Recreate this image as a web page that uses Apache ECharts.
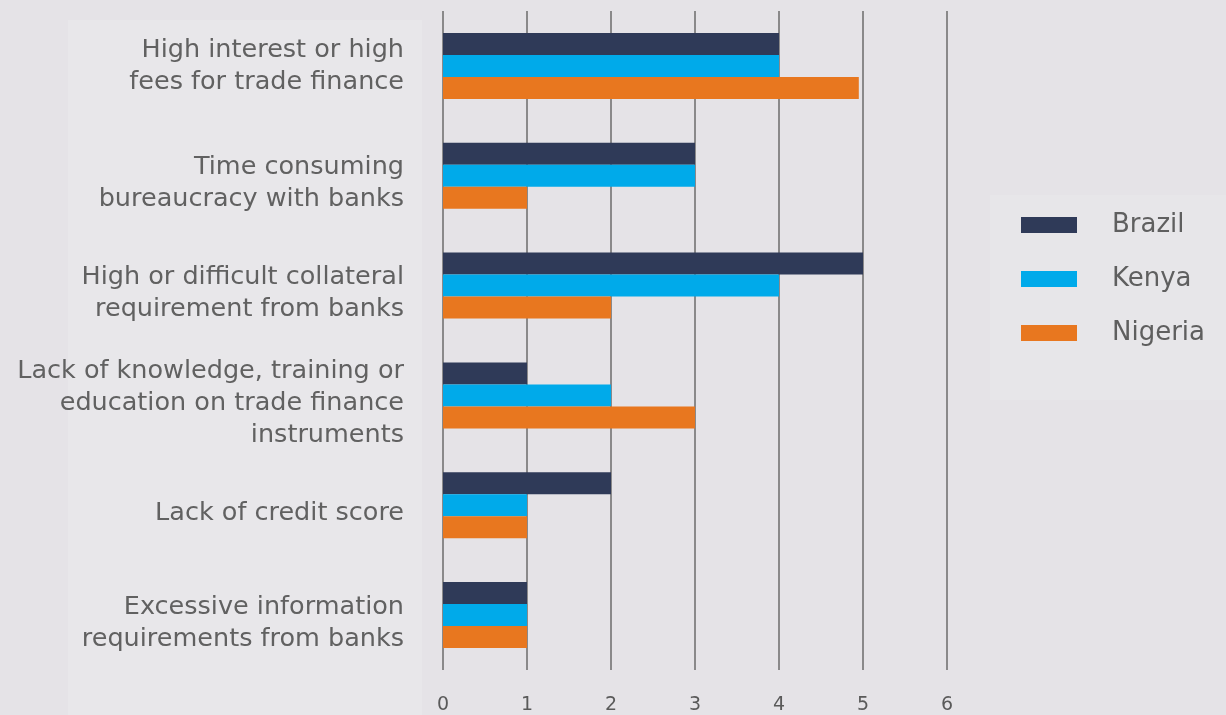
<!DOCTYPE html>
<html>
<head>
<meta charset="utf-8">
<script src="https://cdn.jsdelivr.net/npm/echarts@6/dist/echarts.min.js"></script>
<style>
  html, body { margin: 0; padding: 0; background: #e5e3e7; }
  #chart { width: 1226px; height: 715px; }
</style>
</head>
<body>
<div id="chart"></div>
<script>
// barriers, top to bottom
const categories = [
    'High interest or high\nfees for trade finance',
    'Time consuming\nbureaucracy with banks',
    'High or difficult collateral\nrequirement from banks',
    'Lack of knowledge, training or\neducation on trade finance\ninstruments',
    'Lack of credit score',
    'Excessive information\nrequirements from banks'
];
const brazil = [4, 3, 5, 1, 2, 1];
const kenya = [4, 3, 4, 2, 1, 1];
const nigeria = [4.95, 1, 2, 3, 1, 1];
const ticks = [0, 1, 2, 3, 4, 5, 6];

const font = '"DejaVu Sans", "Noto Sans", sans-serif';

const chart = echarts.init(document.getElementById('chart'));

const bar = (name, data, color) => ({
    name: name,
    type: 'bar',
    data: data,
    barWidth: 22,
    barGap: '0%',
    itemStyle: { color: color }
});

chart.setOption({
    backgroundColor: '#e5e3e7',
    animation: false,
    graphic: [
        // lighter panels behind labels and legend
        { type: 'rect', z: -10, shape: { x: 68, y: 20, width: 354, height: 695 }, style: { fill: '#e8e7ea' } },
        { type: 'rect', z: -10, shape: { x: 990, y: 195, width: 236, height: 205 }, style: { fill: '#e7e6e9' } }
    ],
    grid: { left: 443, right: 279, top: 11, bottom: 44 },
    legend: {
        orient: 'vertical',
        left: 1016,
        top: 207,
        itemWidth: 56,
        itemHeight: 16,
        itemGap: 28,
        icon: 'rect',
        textStyle: { color: '#5f5f5f', fontSize: 26, fontFamily: font, padding: [0, 0, 0, 30] },
        data: ['Brazil', 'Kenya', 'Nigeria']
    },
    xAxis: {
        type: 'value',
        min: 0,
        max: 6,
        interval: 1,
        axisLine: { show: false },
        axisTick: { show: false },
        splitLine: { lineStyle: { color: '#6b6b6b', width: 1.5 } },
        axisLabel: {
            color: '#5a5a5a',
            fontSize: 19,
            fontFamily: font,
            margin: 26,
            formatter: v => ticks.includes(v) ? String(v) : ''
        }
    },
    yAxis: {
        type: 'category',
        inverse: true,
        data: categories,
        axisLine: { show: false },
        axisTick: { show: false },
        axisLabel: {
            color: '#616161',
            fontSize: 25.5,
            lineHeight: 32,
            fontFamily: font,
            align: 'right',
            margin: 39,
            // labels below the first one sit a little under their bars
            formatter: (v, i) => i === 0 ? v : '{gap| }\n' + v,
            rich: { gap: { fontSize: 1, lineHeight: 16 } }
        }
    },
    series: [
        bar('Brazil', brazil, '#2f3a58'),
        bar('Kenya', kenya, '#00aaea'),
        bar('Nigeria', nigeria, '#e8771f')
    ]
});
</script>
</body>
</html>
